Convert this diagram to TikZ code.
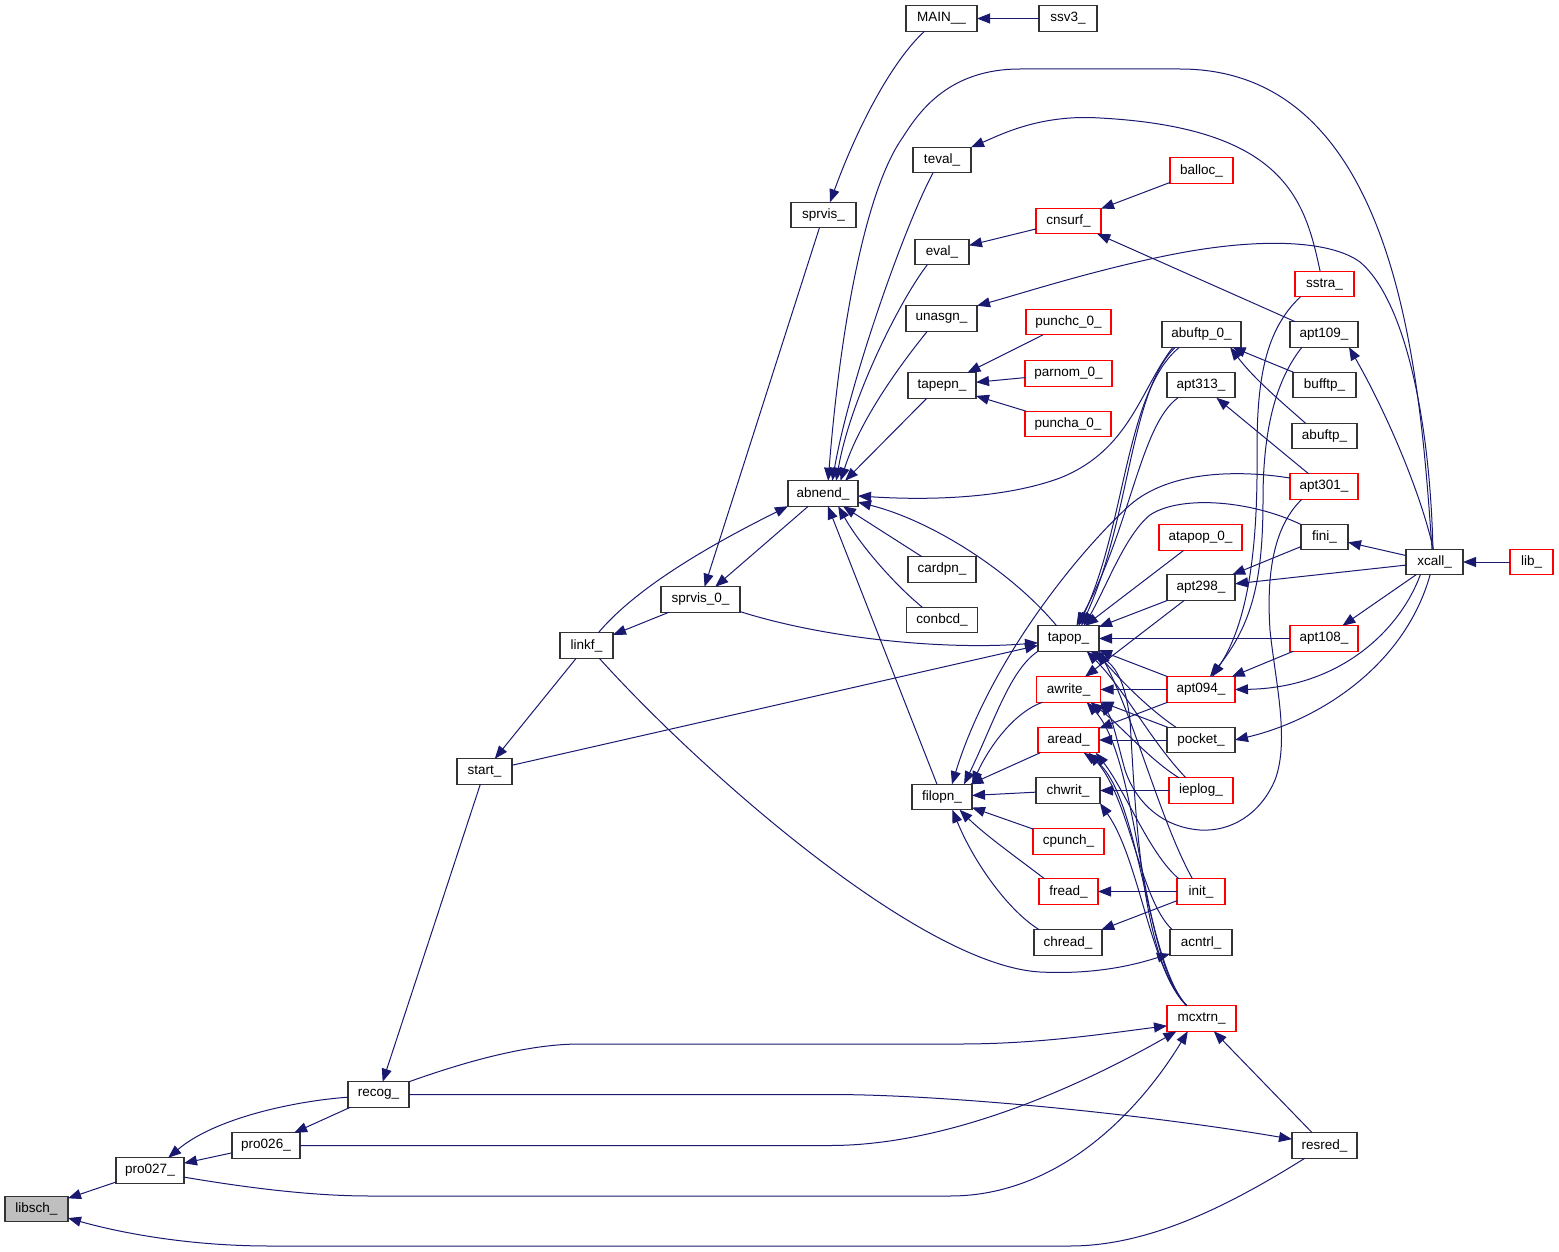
\documentclass[tikz,border=0pt]{standalone}
\usepackage{fontspec}
\setmainfont{Liberation Sans}
\usetikzlibrary{arrows.meta}
\definecolor{edgeblue}{RGB}{25,25,112}
\definecolor{boxgray}{RGB}{191,191,191}
\tikzset{
  box/.style={draw=black!80, line width=1.1pt, fill=white, rectangle, minimum height=25.5pt, inner sep=0pt, outer sep=0pt, font=\fontsize{13.5pt}{15pt}\selectfont},
  rbox/.style={box, draw=red},
  e/.style={draw=edgeblue, line width=1pt, -{Triangle[length=13pt,width=10pt]}},
}
\begin{document}
\begin{tikzpicture}[x=1pt,y=-1pt]
\useasboundingbox (0,0) rectangle (1559,1252);
% nodes
\node[box, fill=boxgray, minimum width=63pt] (libsch) at (36.5,1209) {libsch\_};
\node[box, minimum width=68pt] (pro027) at (150,1170.5) {pro027\_};
\node[box, minimum width=68pt] (pro026) at (266,1145.5) {pro026\_};
\node[box, minimum width=61pt] (recog) at (378.5,1094.5) {recog\_};
\node[box, minimum width=55pt] (start) at (484.5,771.5) {start\_};
\node[box, minimum width=53pt] (linkf) at (586.5,645.5) {linkf\_};
\node[box, minimum width=79pt] (sprvis0) at (700.5,599.5) {sprvis\_0\_};
\node[box, minimum width=65pt] (sprvis) at (823.5,215) {sprvis\_};
\node[box, minimum width=71pt] (MAIN) at (941.5,18.5) {MAIN\_\_};
\node[box, minimum width=58pt] (ssv3) at (1068,18.5) {ssv3\_};
\node[box, minimum width=70pt] (abnend) at (823,493.5) {abnend\_};
\node[box, minimum width=58pt] (teval) at (942,160) {teval\_};
\node[box, minimum width=54pt] (eval) at (942,252) {eval\_};
\node[box, minimum width=71pt] (unasgn) at (941.5,318.5) {unasgn\_};
\node[box, minimum width=68pt] (tapepn) at (942,385.5) {tapepn\_};
\node[box, minimum width=68pt] (cardpn) at (942,569.5) {cardpn\_};
\node[box, minimum width=71pt] (conbcd) at (942,620) {conbcd\_};
\node[box, minimum width=60pt] (filopn) at (942,797) {filopn\_};
\node[rbox, minimum width=65pt] (cnsurf) at (1068.5,221) {cnsurf\_};
\node[rbox, minimum width=63pt] (balloc) at (1201.5,170.5) {balloc\_};
\node[rbox, minimum width=85pt] (punchc0) at (1068.5,322) {punchc\_0\_};
\node[rbox, minimum width=87pt] (parnom0) at (1068.5,373.5) {parnom\_0\_};
\node[rbox, minimum width=86pt] (puncha0) at (1068,424) {puncha\_0\_};
\node[box, minimum width=61pt] (tapop) at (1068.5,638.5) {tapop\_};
\node[rbox, minimum width=64pt] (awrite) at (1068.5,689.5) {awrite\_};
\node[rbox, minimum width=61pt] (aread) at (1068.5,740) {aread\_};
\node[box, minimum width=64pt] (chwrit) at (1068,790.5) {chwrit\_};
\node[rbox, minimum width=71pt] (cpunch) at (1068.5,841.5) {cpunch\_};
\node[rbox, minimum width=59pt] (fread) at (1068.5,891.5) {fread\_};
\node[box, minimum width=68pt] (chread) at (1068,942.5) {chread\_};
\node[rbox, minimum width=59pt] (sstra) at (1324.5,284) {sstra\_};
\node[box, minimum width=79pt] (abuftp0) at (1201.5,334.5) {abuftp\_0\_};
\node[box, minimum width=68pt] (apt109) at (1324,334.5) {apt109\_};
\node[box, minimum width=68pt] (apt313) at (1201,385) {apt313\_};
\node[box, minimum width=63pt] (bufftp) at (1324.5,385) {bufftp\_};
\node[box, minimum width=65pt] (abuftp) at (1324.5,436) {abuftp\_};
\node[rbox, minimum width=68pt] (apt301) at (1324,486.5) {apt301\_};
\node[rbox, minimum width=83pt] (atapop0) at (1200.5,537.5) {atapop\_0\_};
\node[box, minimum width=47pt] (fini) at (1324.5,537) {fini\_};
\node[box, minimum width=68pt] (apt298) at (1201,587.5) {apt298\_};
\node[box, minimum width=57pt] (xcall) at (1434.5,562) {xcall\_};
\node[rbox, minimum width=43pt] (lib) at (1531.5,562) {lib\_};
\node[rbox, minimum width=68pt] (apt108) at (1324,638.5) {apt108\_};
\node[rbox, minimum width=68pt] (apt094) at (1201,689.5) {apt094\_};
\node[box, minimum width=68pt] (pocket) at (1201,740) {pocket\_};
\node[rbox, minimum width=64pt] (ieplog) at (1201,790.5) {ieplog\_};
\node[rbox, minimum width=48pt] (init) at (1201,891.5) {init\_};
\node[box, minimum width=62pt] (acntrl) at (1201,942.5) {acntrl\_};
\node[rbox, minimum width=69pt] (mcxtrn) at (1201.5,1018.5) {mcxtrn\_};
\node[box, minimum width=65pt] (resred) at (1324.5,1145.5) {resred\_};

% straight edges
\draw[e] (pro027) -- (libsch);
\draw[e] (pro026) -- (pro027);
\draw[e] (recog) -- (pro026);
\draw[e] (start) -- (recog);
\draw[e] (linkf) -- (start);
\draw[e] (sprvis0) -- (linkf);
\draw[e] (abnend) -- (sprvis0);
\draw[e] (sprvis) -- (sprvis0);
\draw[e] (ssv3) -- (MAIN);
\draw[e] (start) -- (tapop);
\draw[e] (resred) -- (mcxtrn);
\draw[e] (cardpn) -- (abnend);
\draw[e] (filopn) -- (abnend);
\draw[e] (tapepn.220) -- (abnend.30);
\draw[e] (cnsurf) -- (eval);
\draw[e] (balloc) -- (cnsurf);
\draw[e] (apt109) -- (cnsurf);
\draw[e] (punchc0) -- (tapepn);
\draw[e] (parnom0) -- (tapepn);
\draw[e] (puncha0) -- (tapepn);
\draw[e] (lib) -- (xcall);
\draw[e] (xcall) -- (fini);
\draw[e] (xcall) -- (apt298);
\draw[e] (fini) -- (apt298);
\draw[e] (xcall) -- (apt108);
\draw[e] (apt108) -- (apt094);
\draw[e] (apt301) -- (apt313);
\draw[e] (bufftp) -- (abuftp0);
\draw[e] (apt108) -- (tapop);
\draw[e] (apt094) -- (awrite);
\draw[e] (pocket) -- (aread);
\draw[e] (ieplog) -- (chwrit);
\draw[e] (init) -- (fread);
\draw[e] (init) -- (chread);
\draw[e] (chwrit) -- (filopn);
\draw[e] (cpunch) -- (filopn);
\draw[e] (aread) -- (filopn);
\draw[e] (atapop0) -- (tapop);
\draw[e] (apt298) -- (tapop);
\draw[e] (apt094) -- (tapop);
\draw[e] (apt298) -- (awrite);
\draw[e] (pocket) -- (awrite);
\draw[e] (apt094) -- (aread);

% curved edges, left part
\draw[e] (resred.213) .. controls (1230,1205) and (1150,1246) .. (1070,1246) -- (270,1246) .. controls (180,1246) and (110,1230) .. (libsch.344);
\draw[e] (recog.185) .. controls (295,1101) and (215,1118) .. (pro027.35);
\draw[e] (linkf.47) .. controls (630,595) and (690,555) .. (abnend.south west);
\draw[e] (MAIN.217) .. controls (895,58) and (860,120) .. (sprvis.63);
\draw[e] (sprvis0.-17) .. controls (830,640) and (950,650) .. (tapop.188);
\draw[e] (linkf.-45) .. controls (700,770) and (920,965) .. (1040,972) .. controls (1100,975) and (1140,963) .. (acntrl.200);
\draw[e] (recog.north east) .. controls (470,1060) and (530,1044) .. (580,1044) -- (960,1044) .. controls (1040,1044) and (1110,1033) .. (mcxtrn.192);
\draw[e] (recog.east) -- (830,1094.5) .. controls (950,1094.5) and (1150,1115) .. (resred.169);
\draw[e] (pro026.east) -- (830,1145.5) .. controls (960,1145.5) and (1100,1075) .. (mcxtrn.207);
\draw[e] (pro027.-11) .. controls (260,1190) and (320,1196) .. (370,1196) -- (950,1196) .. controls (1060,1196) and (1140,1110) .. (mcxtrn.223);

% into abnend
\draw[e] (teval.235) .. controls (905,225) and (850,380) .. (abnend.54);
\draw[e] (eval.221) .. controls (900,300) and (850,400) .. (abnend.44);
\draw[e] (unasgn.222) .. controls (900,365) and (860,420) .. (abnend.36);
\draw[e] (conbcd.147) .. controls (895,585) and (860,545) .. (abnend.-40);
\draw[e] (tapop.133) .. controls (1010,570) and (930,520) .. (abnend.-14);
\draw[e] (abuftp0.204) .. controls (1140,390) and (1130,450) .. (1060,478) .. controls (1000,500) and (920,500) .. (abnend.-4);
\draw[e] (xcall.101) .. controls (1420,380) and (1400,69) .. (1180,69) -- (1020,69) .. controls (950,69) and (920,110) .. (903,137) .. controls (865,190) and (840,330) .. (abnend.68);

% upper arcs
\draw[e] (sstra.109) .. controls (1305,200) and (1285,128) .. (1100,118) .. controls (1040,114) and (1000,135) .. (teval.north east);
\draw[e] (xcall.97) .. controls (1430,420) and (1405,300) .. (1360,262) .. controls (1330,240) and (1260,238) .. (1180,253) .. controls (1100,268) and (1020,294) .. (unasgn.north east);

% into filopn
\draw[e] (apt301.166) .. controls (1240,470) and (1170,470) .. (1130,505) .. controls (1080,550) and (990,660) .. (filopn.52);
\draw[e] (tapop.south west) .. controls (1010,670) and (995,720) .. (filopn.30);
\draw[e] (awrite.206) .. controls (1015,712) and (990,745) .. (filopn.north east);
\draw[e] (fread.152) .. controls (1020,860) and (985,835) .. (filopn.-36);
\draw[e] (chread.156) .. controls (1010,912) and (975,865) .. (filopn.-51);

% into tapop
\draw[e] (abuftp0.206) .. controls (1130,390) and (1130,520) .. (tapop.45);
\draw[e] (abuftp0.210) .. controls (1125,392) and (1126,525) .. (tapop.52);
\draw[e] (apt313.209) .. controls (1140,425) and (1130,530) .. (tapop.58);
\draw[e] (fini.152) .. controls (1250,500) and (1180,495) .. (1150,515) .. controls (1125,535) and (1105,590) .. (tapop.40);
\draw[e] (pocket.153) .. controls (1150,710) and (1120,680) .. (tapop.-25);
\draw[e] (ieplog.140) .. controls (1150,740) and (1125,690) .. (tapop.-35);
\draw[e] (init.124) .. controls (1160,820) and (1135,720) .. (tapop.south east);
\draw[e] (mcxtrn.139) .. controls (1140,960) and (1135,800) .. (1130,720) .. controls (1125,680) and (1115,665) .. (tapop.-30);

% into awrite, aread, chwrit
\draw[e] (ieplog.150) .. controls (1150,760) and (1120,725) .. (awrite.-30);
\draw[e] (apt301.210) .. controls (1275,525) and (1266,570) .. (1270,630) .. controls (1275,680) and (1290,740) .. (1275,780) .. controls (1260,815) and (1230,832) .. (1200,830) .. controls (1160,827) and (1135,800) .. (1125,770) .. controls (1118,745) and (1113,720) .. (awrite.south east);
\draw[e] (mcxtrn.139) .. controls (1140,960) and (1140,760) .. (awrite.-35);
\draw[e] (init.150) .. controls (1150,855) and (1125,790) .. (aread.-25);
\draw[e] (acntrl.156) .. controls (1140,900) and (1130,800) .. (aread.-32);
\draw[e] (mcxtrn.139) .. controls (1145,960) and (1140,790) .. (aread.-40);
\draw[e] (mcxtrn.139) .. controls (1150,970) and (1140,860) .. (chwrit.south east);

% xcall fan and apt094 feeders
\draw[e] (xcall.95) .. controls (1420,490) and (1385,410) .. (apt109.-27);
\draw[e] (xcall.222) .. controls (1400,630) and (1340,688) .. (apt094.east);
\draw[e] (xcall.251) .. controls (1405,665) and (1320,720) .. (pocket.east);
\draw[e] (sstra.208) .. controls (1265,330) and (1257,380) .. (1257,450) .. controls (1258,540) and (1250,620) .. (apt094.49);
\draw[e] (apt109.210) .. controls (1272,385) and (1263,440) .. (1263,500) .. controls (1263,580) and (1252,625) .. (apt094.55);
\draw[e] (abuftp.146) .. controls (1285,405) and (1255,380) .. (abuftp0.-24);
\end{tikzpicture}
\end{document}
